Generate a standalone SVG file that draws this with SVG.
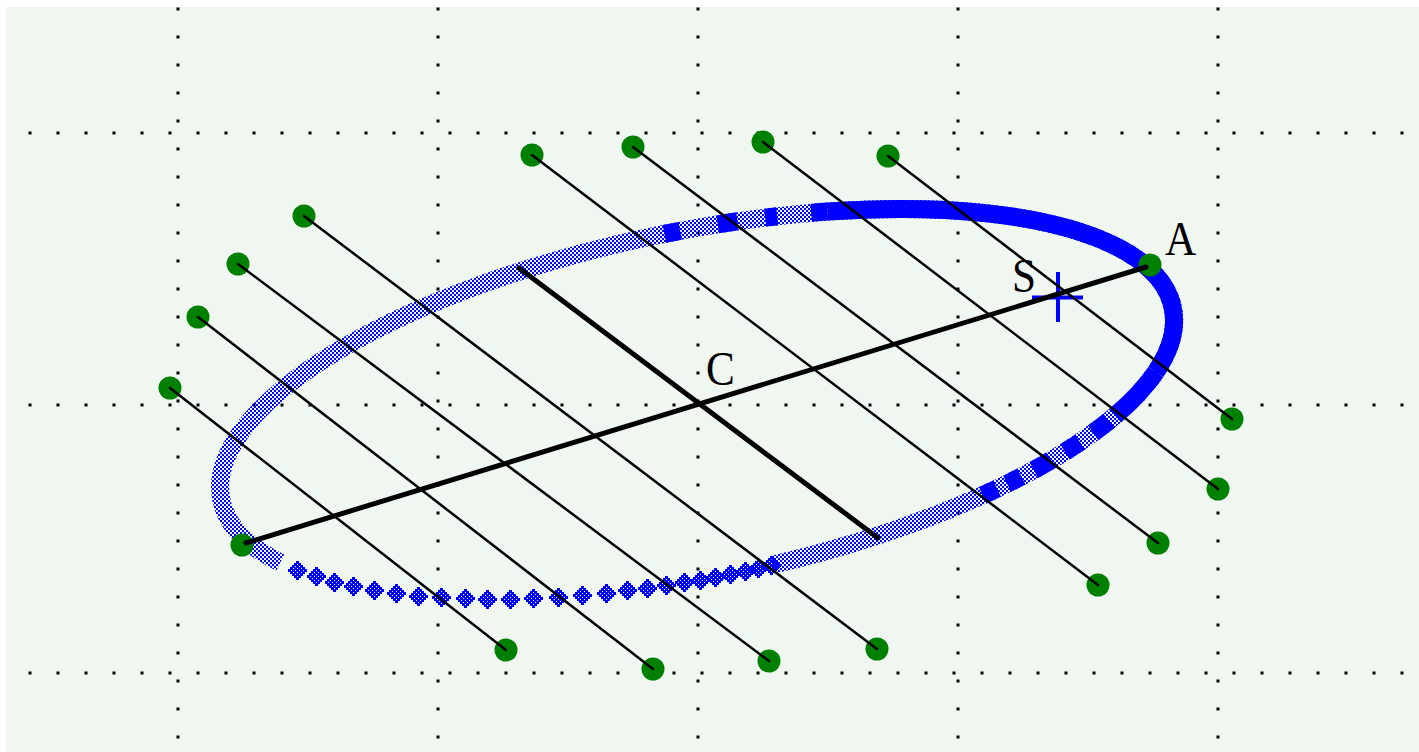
<svg xmlns="http://www.w3.org/2000/svg" width="1419" height="752" viewBox="0 0 1419 752">
<style>
.grid{stroke:#000;stroke-width:3;stroke-dasharray:3 25;fill:none}
.band{fill:none;stroke-width:18}
.thin{stroke:#000;stroke-width:2.5;fill:none;stroke-linecap:round}
.thick{stroke:#000;stroke-width:5;fill:none;stroke-linecap:round}
.pt{fill:#008000}
.lbl{font-family:"Liberation Serif","DejaVu Serif",serif;font-size:48px;fill:#000}
</style>
<defs>
<pattern id="chk" width="4" height="4" patternUnits="userSpaceOnUse"><path d="M0 0h2v2H0zM2 2h2v2H2z" fill="#00f"/></pattern>
<path id="dm" fill="#00f" d="M-1-9h3v3h-3zM-3-7h3v3h-3zM1-7h3v3h-3zM-5-5h3v3h-3zM-1-5h3v3h-3zM3-5h3v3h-3zM-7-3h3v3h-3zM-3-3h3v3h-3zM1-3h3v3h-3zM5-3h3v3h-3zM-9-1h3v3h-3zM-5-1h3v3h-3zM-1-1h3v3h-3zM3-1h3v3h-3zM7-1h3v3h-3zM-7 1h3v3h-3zM-3 1h3v3h-3zM1 1h3v3h-3zM5 1h3v3h-3zM-5 3h3v3h-3zM-1 3h3v3h-3zM3 3h3v3h-3zM-3 5h3v3h-3zM1 5h3v3h-3zM-1 7h3v3h-3z"/>
</defs>
<rect width="1419" height="752" fill="#fff"/>
<rect x="6" y="7" width="1413" height="745" fill="#f0f7f0"/>
<g id="grid">
<path class="grid" d="M28.5 133H1419M28.5 405H1419M28.5 673H1419"/>
<path class="grid" d="M178 7.5V752M438 7.5V752M698 7.5V752M958 7.5V752M1218 7.5V752"/>
</g>
<g id="locus">
<path class="band" stroke="url(#chk)" d="M280.3 562.6A485.33 173.22 -11.39 1 1 772.6 564.8"/>
<path class="band" stroke="#00f" stroke-width="19" d="M827.6 211.6A485.33 173.22 -11.39 0 1 1155.8 372"/>
<path class="band" stroke="#00f" stroke-dasharray="0 86 16 38 20 28 12 34 20 300" d="M580.7 253.4A485.33 173.22 -11.39 0 1 827.6 211.6"/>
<path class="band" stroke="#00f" stroke-dasharray="60 8 20 16 18 16 20 14 16 11 16 300" d="M1155.8 372A485.33 173.22 -11.39 0 1 964.5 503.2"/>
<use href="#dm" x="297" y="570"/>
<use href="#dm" x="316" y="576"/>
<use href="#dm" x="334" y="582"/>
<use href="#dm" x="353" y="586"/>
<use href="#dm" x="374" y="590"/>
<use href="#dm" x="396" y="593"/>
<use href="#dm" x="418" y="596"/>
<use href="#dm" x="441" y="597"/>
<use href="#dm" x="465" y="598"/>
<use href="#dm" x="487" y="599"/>
<use href="#dm" x="510" y="599"/>
<use href="#dm" x="533" y="598"/>
<use href="#dm" x="558" y="597"/>
<use href="#dm" x="582" y="595"/>
<use href="#dm" x="606" y="593"/>
<use href="#dm" x="627" y="590"/>
<use href="#dm" x="647" y="588"/>
<use href="#dm" x="666" y="585"/>
<use href="#dm" x="684" y="582"/>
<use href="#dm" x="700" y="580"/>
<use href="#dm" x="715" y="577"/>
<use href="#dm" x="730" y="574"/>
<use href="#dm" x="745" y="571"/>
<use href="#dm" x="758" y="568"/>
<use href="#dm" x="771" y="565"/>
</g>
<g id="focus-S" stroke="#00f" stroke-width="4" fill="none">
<path d="M1058 272V322M1032 297.5H1083"/>
</g>
<g id="points">
<circle id="p-A" class="pt" cx="1150" cy="265" r="11.5"/>
<circle id="p-B" class="pt" cx="242" cy="545" r="11.5"/>
<circle id="p1a" class="pt" cx="170" cy="388" r="11.5"/>
<circle id="p1b" class="pt" cx="506" cy="650" r="11.5"/>
<circle id="p2a" class="pt" cx="198" cy="317" r="11.5"/>
<circle id="p2b" class="pt" cx="653" cy="669" r="11.5"/>
<circle id="p3a" class="pt" cx="238" cy="264" r="11.5"/>
<circle id="p3b" class="pt" cx="769" cy="661" r="11.5"/>
<circle id="p4a" class="pt" cx="304" cy="216" r="11.5"/>
<circle id="p4b" class="pt" cx="877" cy="649" r="11.5"/>
<circle id="p5a" class="pt" cx="532" cy="155" r="11.5"/>
<circle id="p5b" class="pt" cx="1098" cy="585" r="11.5"/>
<circle id="p6a" class="pt" cx="633" cy="147" r="11.5"/>
<circle id="p6b" class="pt" cx="1158" cy="543" r="11.5"/>
<circle id="p7a" class="pt" cx="763" cy="142" r="11.5"/>
<circle id="p7b" class="pt" cx="1218" cy="489" r="11.5"/>
<circle id="p8a" class="pt" cx="888" cy="156" r="11.5"/>
<circle id="p8b" class="pt" cx="1232" cy="419" r="11.5"/>
</g>
<g id="connectors">
<path class="thin" d="M170 388L506 650M198 317L653 669M238 264L769 661M304 216L877 649M532 155L1098 585M633 147L1158 543M763 142L1218 489M888 156L1232 419"/>
<path class="thick" d="M246 543L1146 267M519 268L878 538"/>
</g>
<g id="labels">
<text class="lbl" transform="translate(1165 255) scale(0.9 1)">A</text>
<text class="lbl" transform="translate(706 385) scale(0.9 1)">C</text>
<text class="lbl" transform="translate(1012 292) scale(0.9 1)">S</text>
</g>
</svg>
